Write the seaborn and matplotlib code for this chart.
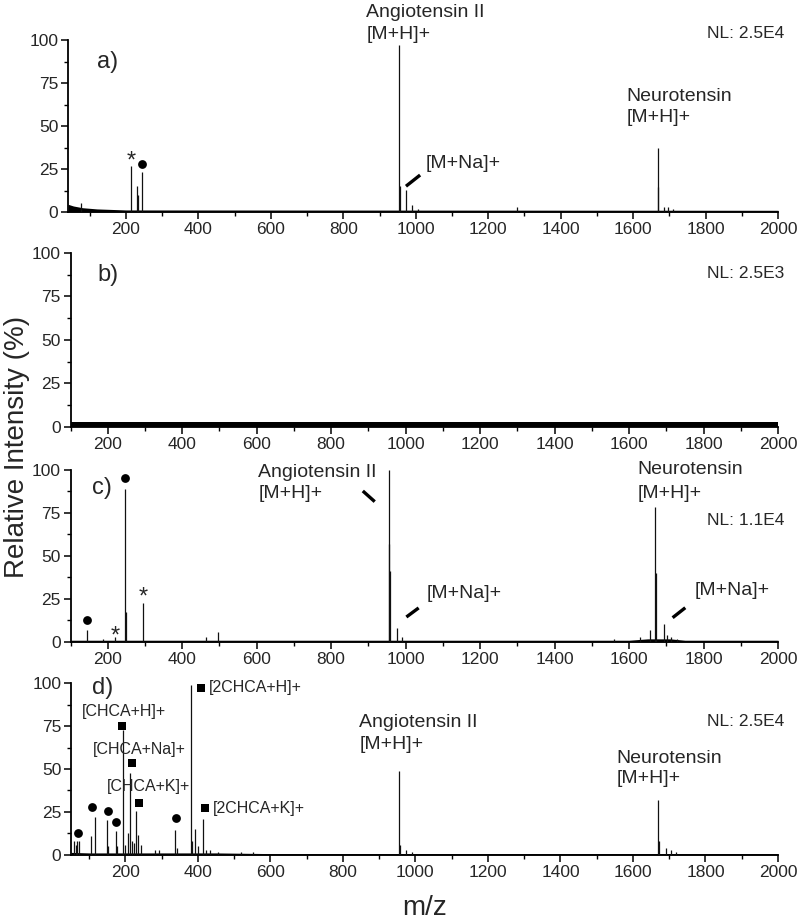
import numpy as np
import pandas as pd
import matplotlib
matplotlib.use("Agg")
import matplotlib.pyplot as plt
import seaborn as sns
from matplotlib.ticker import MultipleLocator

# ---- panel a) : peaks (m/z, relative intensity %) ----
a_mz = [75, 215, 231, 234, 243, 955, 957, 973, 990, 1005, 1279, 1668, 1670, 1685, 1695, 1710]
a_int = [5, 26.7, 15.3, 10, 23, 97, 15, 13, 4, 2, 3, 37, 14.5, 3, 3, 2]
a_noise_mz = [40, 55, 80, 120, 200, 2000]
a_noise = [4.5, 3.5, 2.5, 1.8, 1.2, 1.0]

# ---- panel b) : noise only ----
b_noise_mz = [100, 2000]
b_noise = [3.0, 3.0]

# ---- panel c) ----
c_mz = [145, 187, 219, 246, 248, 295, 465, 497, 955, 956, 957, 976, 990,
        1560, 1630, 1655, 1671, 1673, 1693, 1702, 1712, 1728]
c_int = [7, 2, 3, 89, 17.6, 22.6, 3, 6, 100, 57, 41, 8, 3,
         1.5, 3, 7, 78.7, 40, 10.5, 4, 3, 2]
c_noise_mz = [100, 1600, 1650, 1710, 1750, 2000]
c_noise = [1.0, 1.0, 1.8, 1.8, 1.0, 1.0]

# ---- panel d) ----
d_mz = [58, 63, 67, 71, 104, 116, 148, 151, 174, 178, 194, 199, 207.6, 213, 219,
        224, 229, 235, 243, 281, 292, 336, 341, 380, 384, 391, 400, 414, 422, 433,
        455, 520, 553, 955, 958, 975, 990, 1668, 1671, 1690, 1705, 1720]
d_int = [8, 6, 8, 8, 11, 22.3, 20.3, 5, 14, 5, 72.7, 6, 13, 47.9, 8,
         7, 25.8, 11.6, 6, 3, 3, 14.5, 4, 98.8, 8, 15, 5, 21, 3, 3,
         1.5, 1.5, 1.5, 49, 6, 3, 2, 32, 8, 4, 3, 2]
d_noise_mz = [50, 100, 450, 600, 2000]
d_noise = [1.5, 1.2, 1.2, 0.8, 0.8]

# marker annotations (m/z, y)
a_dot = ([244], [28])
a_star = ([215], [36])
c_dot = ([145, 246], [12.6, 95.5])
c_star = ([219, 296], [9.5, 32])
d_dot = ([70, 108.6, 152.6, 173.8, 338.8], [12.6, 28.1, 25.6, 19.4, 21.3])
d_square = ([191, 217, 238, 407.5, 418.5], [75, 53.3, 30.4, 97.3, 27.5])

sns.set_theme(style="ticks")
plt.rcParams['font.family'] = ['Liberation Sans', 'DejaVu Sans']

fig = plt.figure(figsize=(8, 9.23), dpi=100)

# axes rectangles (left, bottom, width, height) in figure fraction
ax_a = fig.add_axes([68 / 800, 0.7703, (778 - 68) / 800, 0.1863])
ax_b = fig.add_axes([70.5 / 800, 0.5374, (778 - 70.5) / 800, 0.1885])
ax_c = fig.add_axes([70.5 / 800, 0.3045, (778 - 70.5) / 800, 0.1863])
ax_d = fig.add_axes([71 / 800, 0.0737, (778 - 71) / 800, 0.1863])


def draw_spectrum(ax, mz, inten, noise_mz, noise, xlim):
    ax.fill_between(noise_mz, 0, noise, color='black', lw=0, zorder=2)
    if len(mz):
        ax.vlines(mz, 0, inten, color='#111111', lw=0.9, zorder=3)
    ax.set_xlim(*xlim)
    ax.set_ylim(0, 100)
    ax.xaxis.set_major_locator(MultipleLocator(200))
    ax.xaxis.set_minor_locator(MultipleLocator(100))
    ax.yaxis.set_major_locator(MultipleLocator(25))
    ax.yaxis.set_minor_locator(MultipleLocator(12.5))
    ax.tick_params(axis='both', which='major', direction='out', length=5,
                   width=1.1, labelsize=12.5, color='black', pad=2)
    ax.tick_params(axis='both', which='minor', direction='out', length=3,
                   width=1.0, color='black')
    for side in ['top', 'right']:
        ax.spines[side].set_visible(False)
    for side in ['left', 'bottom']:
        ax.spines[side].set_linewidth(1.3)
        ax.spines[side].set_color('black')
    ax.set_xlabel('')
    ax.set_ylabel('')


def two_line(ax, x, y1, y2, l1, l2, size=14):
    ax.text(x, y1, l1, ha='left', va='center', fontsize=size, clip_on=False)
    ax.text(x, y2, l2, ha='left', va='center', fontsize=size, clip_on=False)


def leader(ax, x0, y0, x1, y1):
    ax.plot([x0, x1], [y0, y1], color='black', lw=2.4, solid_capstyle='butt',
            clip_on=False, zorder=4)


def dots(ax, pts, marker, s):
    df = pd.DataFrame({'mz': pts[0], 'y': pts[1]})
    sns.scatterplot(data=df, x='mz', y='y', ax=ax, marker=marker, s=s,
                    color='black', edgecolor='black', linewidth=0, zorder=5,
                    legend=False)
    ax.set_xlabel('')
    ax.set_ylabel('')


def stars(ax, pts):
    for x, y in zip(*pts):
        ax.text(x, y, '*', ha='center', va='top', fontsize=17)


# a)
draw_spectrum(ax_a, a_mz, a_int, a_noise_mz, a_noise, (40, 2000))
two_line(ax_a, 863, 116.3, 103.5, 'Angiotensin II', '[M+H]+')
two_line(ax_a, 1582, 66.9, 54.7, 'Neurotensin', '[M+H]+')
ax_a.text(1028, 28.5, '[M+Na]+', ha='left', va='center', fontsize=14)
leader(ax_a, 973, 15, 1012, 21.5)
ax_a.text(2017, 104, 'NL: 2.5E4', ha='right', va='center', fontsize=12.5)
ax_a.text(120, 87.2, 'a)', ha='left', va='center', fontsize=17)
dots(ax_a, a_dot, 'o', 40)
stars(ax_a, a_star)

# b)
draw_spectrum(ax_b, [], [], b_noise_mz, b_noise, (100, 2000))
ax_b.text(2017, 88.5, 'NL: 2.5E3', ha='right', va='center', fontsize=12.5)
ax_b.text(172, 87.5, 'b)', ha='left', va='center', fontsize=17)

# c)
draw_spectrum(ax_c, c_mz, c_int, c_noise_mz, c_noise, (100, 2000))
two_line(ax_c, 604, 98.3, 86.6, 'Angiotensin II', '[M+H]+')
leader(ax_c, 885, 87.8, 917, 81.6)
two_line(ax_c, 1623, 100, 86.4, 'Neurotensin', '[M+H]+')
ax_c.text(2017, 70.9, 'NL: 1.1E4', ha='right', va='center', fontsize=12.5)
ax_c.text(1056, 28.3, '[M+Na]+', ha='left', va='center', fontsize=14)
leader(ax_c, 1002, 14.5, 1035, 19.8)
ax_c.text(1776, 30.2, '[M+Na]+', ha='left', va='center', fontsize=14)
leader(ax_c, 1717, 14.1, 1751, 19.9)
ax_c.text(157, 89.5, 'c)', ha='left', va='center', fontsize=17)
dots(ax_c, c_dot, 'o', 40)
stars(ax_c, c_star)

# d)
draw_spectrum(ax_d, d_mz, d_int, d_noise_mz, d_noise, (50, 2000))
ax_d.text(107, 97, 'd)', ha='left', va='center', fontsize=17)
ax_d.text(79, 83.3, '[CHCA+H]+', ha='left', va='center', fontsize=11.5)
ax_d.text(110, 61.4, '[CHCA+Na]+', ha='left', va='center', fontsize=11.5)
ax_d.text(148, 39.7, '[CHCA+K]+', ha='left', va='center', fontsize=11.5)
ax_d.text(430, 97.5, '[2CHCA+H]+', ha='left', va='center', fontsize=11.5)
ax_d.text(441, 27.1, '[2CHCA+K]+', ha='left', va='center', fontsize=11.5)
two_line(ax_d, 845, 76.9, 64, 'Angiotensin II', '[M+H]+')
two_line(ax_d, 1554, 56.2, 44.6, 'Neurotensin', '[M+H]+')
ax_d.text(2017, 77.5, 'NL: 2.5E4', ha='right', va='center', fontsize=12.5)
dots(ax_d, d_dot, 'o', 40)
dots(ax_d, d_square, 's', 36)

fig.text(0.021, 0.516, 'Relative Intensity (%)', rotation=90, ha='center',
         va='center', fontsize=20)
fig.text(0.531, 0.016, 'm/z', ha='center', va='center', fontsize=20)

fig.savefig('out.png', dpi=100, facecolor='white')
